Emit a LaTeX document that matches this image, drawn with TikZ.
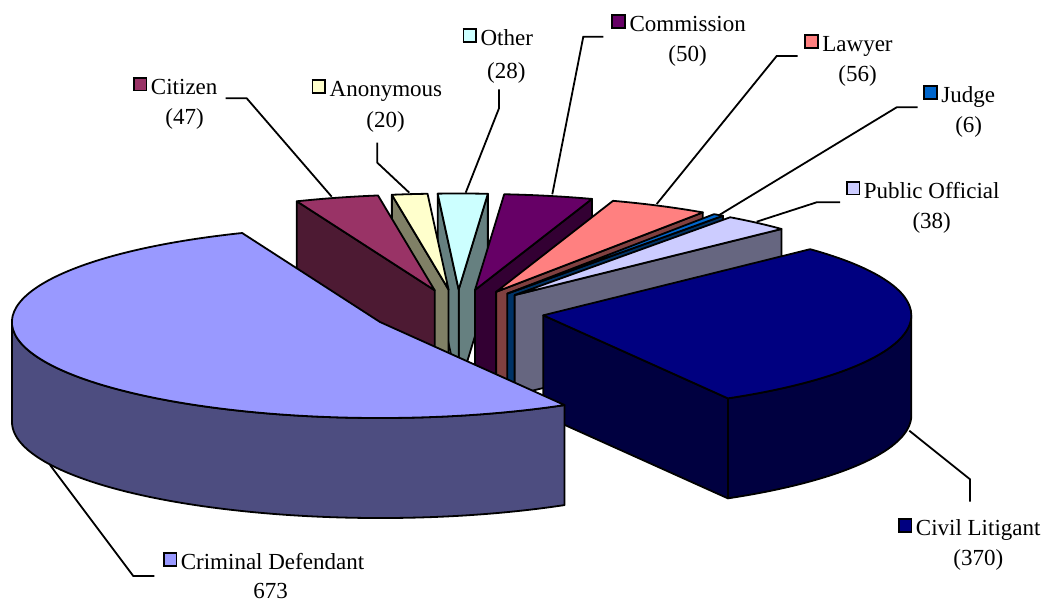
\documentclass[tikz,border=0pt]{standalone}
\usepackage{fontspec}
\setmainfont{Liberation Serif}
\usetikzlibrary{calc}

% slice colours (top face / side face)
\definecolor{cdTop}{HTML}{9999FF} \definecolor{cdSide}{HTML}{4D4D80}
\definecolor{clTop}{HTML}{000080} \definecolor{clSide}{HTML}{000040}
\definecolor{poTop}{HTML}{CCCCFF} \definecolor{poSide}{HTML}{666680}
\definecolor{juTop}{HTML}{0066CC} \definecolor{juSide}{HTML}{003366}
\definecolor{laTop}{HTML}{FF8080} \definecolor{laSide}{HTML}{804040}
\definecolor{coTop}{HTML}{660066} \definecolor{coSide}{HTML}{330033}
\definecolor{otTop}{HTML}{CCFFFF} \definecolor{otSide}{HTML}{668080}
\definecolor{anTop}{HTML}{FFFFCC} \definecolor{anSide}{HTML}{808066}
\definecolor{ciTop}{HTML}{993366} \definecolor{ciSide}{HTML}{4D1A33}

\setlength{\fboxsep}{0pt}
\setlength{\fboxrule}{1.8pt}
\newcommand{\keybox}[1]{\llap{\raisebox{4.7pt}{\fcolorbox{black}{#1}{\rule{0pt}{11pt}\rule{11pt}{0pt}}}\hspace{3.5pt}}}

% exploded slice helpers: radii 368 x 96, depth 100
\newcommand{\slicecentre}[2]{%
  \pgfmathsetmacro\slicemid{(#1+#2)/2}
  \coordinate (sc) at ($(pie)+(\slicemid:86.5pt and 22.6pt)$);}
\newcommand{\slicewall}[2]{%
  \fill[#2, wedge] (sc) -- ++(#1:368pt and 96pt) -- ++(0,-100pt) -- ($(sc)+(0,-100pt)$) -- cycle;}
\newcommand{\slicerim}[3]{%
  \fill[#3, wedge] ($(sc)+(#1:368pt and 96pt)$) arc[start angle=#1, end angle=#2, x radius=368pt, y radius=96pt]
    -- ++(0,-100pt) arc[start angle=#2, end angle=#1, x radius=368pt, y radius=96pt] -- cycle;}
\newcommand{\slicetop}[3]{%
  \fill[#3, wedge] (sc) -- ++(#1:368pt and 96pt) arc[start angle=#1, end angle=#2, x radius=368pt, y radius=96pt] -- cycle;}

\tikzset{
  wedge/.style={draw=black, line width=1.8pt, line join=round},
  lab/.style={font=\fontsize{23}{30}\selectfont, inner sep=0pt, anchor=base},
  leader/.style={black, line width=1.8pt},
}

\begin{document}
\begin{tikzpicture}[x=1pt, y=1pt]
    \useasboundingbox (0,0) rectangle (1044,602);
    \coordinate (pie) at (457.7,289.9);

    % Other (28)
    \slicecentre{85.447}{93.273}
    \slicewall{85.447}{otSide}
    \slicewall{93.273}{otSide}
    \slicetop{85.447}{93.273}{otTop}

    % Anonymous (20)
    \slicecentre{93.273}{98.863}
    \slicewall{98.863}{anSide}
    \slicetop{93.273}{98.863}{anTop}

    % Commission (50)
    \slicecentre{71.472}{85.447}
    \slicewall{71.472}{coSide}
    \slicetop{71.472}{85.447}{coTop}

    % Citizen (47)
    \slicecentre{98.863}{112}
    \slicewall{112}{ciSide}
    \slicetop{98.863}{112}{ciTop}

    % Lawyer (56)
    \slicecentre{55.820}{71.472}
    \slicewall{55.820}{laSide}
    \slicetop{55.820}{71.472}{laTop}

    % Judge (6)
    \slicecentre{54.143}{55.820}
    \slicewall{54.143}{juSide}
    \slicetop{54.143}{55.820}{juTop}

    % Public Official (38)
    \slicecentre{43.522}{54.143}
    \slicewall{43.522}{poSide}
    \slicetop{43.522}{54.143}{poTop}

    % Civil Litigant (370)
    \slicecentre{-59.894}{43.522}
    \slicewall{-59.894}{clSide}
    \slicerim{-59.894}{0}{clSide}
    \slicetop{-59.894}{43.522}{clTop}

    % Criminal Defendant (673)
    \slicecentre{112}{300.106}
    \slicerim{180}{300.106}{cdSide}
    \slicetop{112}{300.106}{cdTop}

    % Leader lines
    \coordinate (ciA) at (225.7,503.7);
    \coordinate (ciB) at (246.7,503.7);
    \coordinate (ciC) at (331.7,405.3);
    \coordinate (anA) at (377.3,459.3);
    \coordinate (anB) at (377.3,439.3);
    \coordinate (anC) at (409.3,409.3);
    \coordinate (otA) at (499,512.7);
    \coordinate (otB) at (499,493.7);
    \coordinate (otC) at (465.7,409.3);
    \coordinate (coA) at (603.3,565.3);
    \coordinate (coB) at (583.3,565.3);
    \coordinate (coC) at (552.3,407.7);
    \coordinate (laA) at (797.7,546);
    \coordinate (laB) at (776.7,546);
    \coordinate (laC) at (656.7,398);
    \coordinate (juA) at (917.7,494.7);
    \coordinate (juB) at (896.7,494.7);
    \coordinate (juC) at (719.3,387);
    \coordinate (poA) at (840,399.7);
    \coordinate (poB) at (816.7,399.7);
    \coordinate (poC) at (756.7,380.3);
    \coordinate (clA) at (970,100.3);
    \coordinate (clB) at (970,122.7);
    \coordinate (clC) at (909.3,171.3);
    \coordinate (cdA) at (154.3,26);
    \coordinate (cdB) at (133.3,26);
    \coordinate (cdC) at (50,137);
    \foreach \s in {ci,an,ot,co,la,ju,po,cl,cd}
        \draw[leader] (\s A) -- (\s B) -- (\s C);

    % Labels
    \node[lab] (ciName) at (184.2,507.7) {\keybox{ciTop}Citizen};
    \node[lab] (ciVal) at (184.5,477.2) {(47)};
    \node[lab] (anName) at (385.9,505) {\keybox{anTop}Anonymous};
    \node[lab] (anVal) at (385.5,474.5) {(20)};
    \node[lab] (otName) at (506.8,556.5) {\keybox{otTop}Other};
    \node[lab] (otVal) at (506.3,523.5) {(28)};
    \node[lab] (coName) at (687.7,570.3) {\keybox{coTop}Commission};
    \node[lab] (coVal) at (687.5,540.3) {(50)};
    \node[lab] (laName) at (857.5,550.3) {\keybox{laTop}Lawyer};
    \node[lab] (laVal) at (857.5,520.3) {(56)};
    \node[lab] (juName) at (968.3,499.2) {\keybox{juTop}Judge};
    \node[lab] (juVal) at (968.7,469.2) {(6)};
    \node[lab] (poName) at (931.7,403.7) {\keybox{poTop}Public Official};
    \node[lab] (poVal) at (931.7,373.7) {(38)};
    \node[lab] (clName) at (978.2,66.3) {\keybox{clTop}Civil Litigant};
    \node[lab] (clVal) at (978.3,36.3) {(370)};
    \node[lab] (cdName) at (272.5,32) {\keybox{cdTop}Criminal Defendant};
    \node[lab] (cdVal) at (270.7,3.5) {673};
\end{tikzpicture}
\end{document}
